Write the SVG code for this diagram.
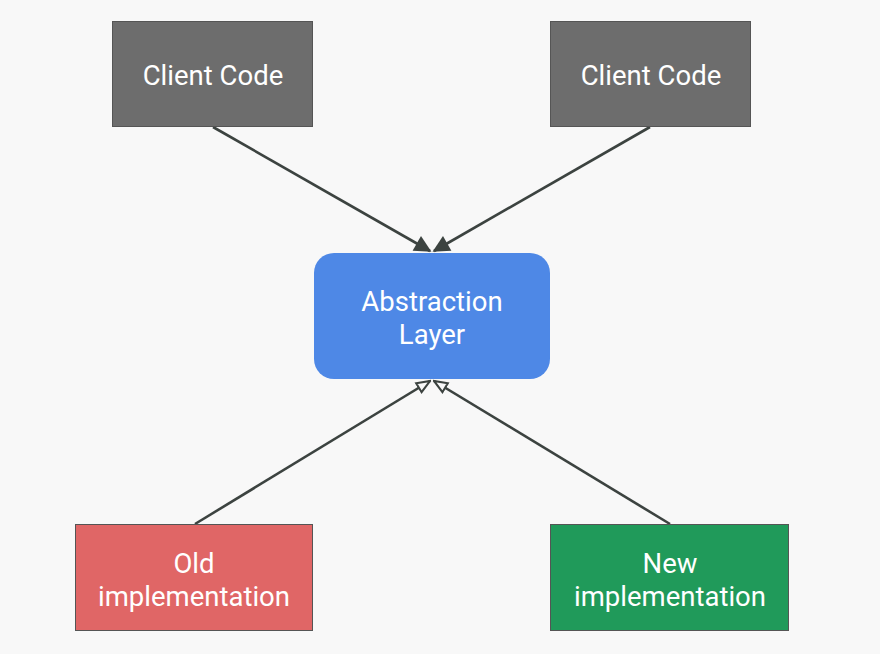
<svg xmlns="http://www.w3.org/2000/svg" width="880" height="654" viewBox="0 0 880 654">
<style>
.lbl{font-family:Roboto,"Liberation Sans",sans-serif;font-size:27.5px;fill:#ffffff;text-anchor:middle}
.box{stroke:#555;stroke-width:1}
.conn{stroke:#3c4340;stroke-width:2.6;fill:none}
</style>
<defs>
<marker id="filled" viewBox="0 0 10 10" refX="9" refY="5" markerWidth="7" markerHeight="6.5" orient="auto" markerUnits="strokeWidth">
<path d="M0,0 L10,5 L0,10 z" fill="#3c4340"/>
</marker>
<marker id="open" viewBox="0 0 12 10" refX="11" refY="5" markerWidth="6" markerHeight="5.5" orient="auto" markerUnits="strokeWidth">
<path d="M1,1 L11,5 L1,9 z" fill="#f8f8f8" stroke="#3c4340" stroke-width="1.6"/>
</marker>
</defs>
<rect width="880" height="654" fill="#f8f8f8"/>
<g id="connectors">
<line class="conn" x1="213" y1="127" x2="430" y2="251" marker-end="url(#filled)"/>
<line class="conn" x1="650" y1="127" x2="434" y2="251" marker-end="url(#filled)"/>
<line class="conn" x1="195" y1="524" x2="430" y2="381" marker-end="url(#open)"/>
<line class="conn" x1="670" y1="524" x2="434" y2="381" marker-end="url(#open)"/>
</g>
<g id="client1">
<rect class="box" x="112.5" y="21.5" width="200" height="105" fill="#6d6d6d"/>
<text class="lbl" x="213" y="85">Client Code</text>
</g>
<g id="client2">
<rect class="box" x="550.5" y="21.5" width="200" height="105" fill="#6d6d6d"/>
<text class="lbl" x="651" y="85">Client Code</text>
</g>
<g id="abstraction">
<rect x="314" y="253" width="236" height="126" rx="20" ry="20" fill="#4e88e6"/>
<text class="lbl" x="432" y="311">Abstraction</text>
<text class="lbl" x="432" y="344">Layer</text>
</g>
<g id="old">
<rect class="box" x="75.5" y="524.5" width="237" height="106" fill="#e06666"/>
<text class="lbl" x="194" y="573">Old</text>
<text class="lbl" x="194" y="606">implementation</text>
</g>
<g id="new">
<rect class="box" x="550.5" y="524.5" width="238" height="106" fill="#209a5a"/>
<text class="lbl" x="670" y="573">New</text>
<text class="lbl" x="670" y="606">implementation</text>
</g>
</svg>
